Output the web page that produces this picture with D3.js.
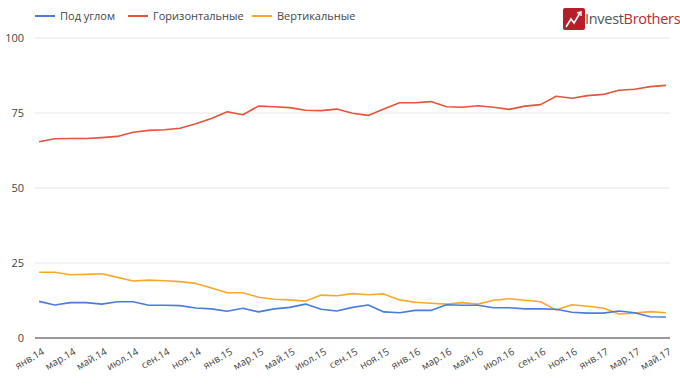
<!DOCTYPE html>
<html>
<head>
<meta charset="utf-8">
<script src="https://cdn.jsdelivr.net/npm/d3@7"></script>
<style>
  body { margin: 0; background: #fff; }
  svg { display: block; font-family: "Open Sans", "Noto Sans", sans-serif; }
</style>
</head>
<body>
<svg id="chart" width="680" height="385"></svg>
<script>
// months jan 2014 .. may 2017
var months = ["янв.14","фев.14","мар.14","апр.14","май.14","июн.14","июл.14","авг.14","сен.14","окт.14","ноя.14","дек.14",
  "янв.15","фев.15","мар.15","апр.15","май.15","июн.15","июл.15","авг.15","сен.15","окт.15","ноя.15","дек.15",
  "янв.16","фев.16","мар.16","апр.16","май.16","июн.16","июл.16","авг.16","сен.16","окт.16","ноя.16","дек.16",
  "янв.17","фев.17","мар.17","апр.17","май.17"];

var seriesNames = ["Под углом", "Горизонтальные", "Вертикальные"];

var angled = [12.2, 11.0, 11.8, 11.8, 11.3, 12.1, 12.1, 10.9, 10.9, 10.8, 10.0, 9.7, 8.9, 9.9, 8.7, 9.7, 10.2, 11.3, 9.6, 9.0,
  10.2, 11.0, 8.7, 8.4, 9.2, 9.2, 11.1, 10.9, 10.9, 10.1, 10.1, 9.7, 9.7, 9.6, 8.6, 8.3, 8.3, 9.0, 8.4, 7.1, 7.0];

var horizontal = [65.4, 66.4, 66.5, 66.5, 66.8, 67.2, 68.6, 69.2, 69.4, 69.9, 71.4, 73.2, 75.4, 74.4, 77.3, 77.1, 76.8, 75.9, 75.8, 76.3,
  74.9, 74.2, 76.3, 78.4, 78.4, 78.8, 77.1, 76.9, 77.4, 76.9, 76.2, 77.3, 77.8, 80.6, 79.9, 80.8, 81.2, 82.6, 82.9, 83.8, 84.2];

var vertical = [21.9, 21.9, 21.1, 21.2, 21.4, 20.2, 19.0, 19.3, 19.1, 18.8, 18.2, 16.7, 15.1, 15.1, 13.6, 12.9, 12.7, 12.3, 14.3, 14.1,
  14.8, 14.4, 14.7, 12.7, 11.9, 11.6, 11.3, 11.8, 11.3, 12.6, 13.1, 12.6, 12.1, 9.3, 11.1, 10.6, 10.0, 8.0, 8.3, 8.8, 8.4];

var yTicks = [0, 25, 50, 75, 100];

var colors = ["#4a7ddb", "#e5533b", "#fba82a"];
var allSeries = [angled, horizontal, vertical];

var margin = {top: 38, right: 10, bottom: 47, left: 35},
    width = 680 - margin.left - margin.right,
    height = 385 - margin.top - margin.bottom;

var svg = d3.select("#chart");
var g = svg.append("g")
    .attr("transform", "translate(" + margin.left + "," + margin.top + ")");

var x = d3.scalePoint()
    .domain(months)
    .range([0, width])
    .padding(0.26);

var y = d3.scaleLinear()
    .domain([0, 100])
    .range([height, 0]);

// gridlines
g.selectAll(".grid")
    .data(yTicks.filter(function(d) { return d > 0; }))
    .enter().append("line")
    .attr("x1", 0).attr("x2", width)
    .attr("y1", function(d) { return y(d); })
    .attr("y2", function(d) { return y(d); })
    .attr("stroke", "#e6e6e6")
    .attr("stroke-width", 1);

// y labels
g.selectAll(".ylab")
    .data(yTicks)
    .enter().append("text")
    .attr("x", -11)
    .attr("y", function(d) { return y(d); })
    .attr("dy", "0.35em")
    .attr("text-anchor", "end")
    .attr("font-size", "11px")
    .attr("fill", "#444")
    .text(function(d) { return d; });

// baseline
g.append("line")
    .attr("x1", 0).attr("x2", width)
    .attr("y1", y(0)).attr("y2", y(0))
    .attr("stroke", "#333")
    .attr("stroke-width", 1);

// x labels every 2 months
var xAxis = d3.axisBottom(x)
    .tickValues(months.filter(function(d, i) { return i % 2 === 0; }))
    .tickSize(0);

g.append("g")
    .attr("transform", "translate(0," + height + ")")
    .call(xAxis)
    .call(function(a) { a.select(".domain").remove(); })
    .selectAll("text")
    .attr("font-family", "Open Sans")
    .attr("font-size", "10px")
    .attr("fill", "#444")
    .attr("text-anchor", "end")
    .attr("dy", 0)
    .attr("transform", "translate(4,13) rotate(-30)");

var line = d3.line()
    .x(function(d, i) { return x(months[i]); })
    .y(function(d) { return y(d); });

// draw order: orange, red, blue on top
[2, 1, 0].forEach(function(k) {
  g.append("path")
      .datum(allSeries[k])
      .attr("fill", "none")
      .attr("stroke", colors[k])
      .attr("stroke-width", 1.6)
      .attr("stroke-linejoin", "round")
      .attr("d", line);
});

// legend
var legendX = [35, 128, 252];
var legend = svg.selectAll(".legend")
    .data(seriesNames)
    .enter().append("g")
    .attr("transform", function(d, i) { return "translate(" + legendX[i] + ",16)"; });

legend.append("line")
    .attr("x1", 0).attr("x2", 20)
    .attr("stroke", function(d, i) { return colors[i]; })
    .attr("stroke-width", 2);

legend.append("text")
    .attr("x", 25)
    .attr("dy", "0.35em")
    .attr("font-size", "11px")
    .attr("fill", "#444")
    .text(function(d) { return d; });

// logo
var logo = svg.append("g").attr("transform", "translate(563,8)");
logo.append("rect")
    .attr("width", 22).attr("height", 22)
    .attr("rx", 2)
    .attr("fill", "#b3202a");
logo.append("polyline")
    .attr("points", "3,19 8,11 11,15 17,5")
    .attr("fill", "none")
    .attr("stroke", "#fff")
    .attr("stroke-width", 1.6);
logo.append("polyline")
    .attr("points", "14,5 18,4 18,8")
    .attr("fill", "none")
    .attr("stroke", "#fff")
    .attr("stroke-width", 1.4);
var logoText = logo.append("text")
    .attr("x", 22)
    .attr("y", 16)
    .attr("font-size", "14.5px")
    .attr("letter-spacing", "-0.3px");
logoText.append("tspan").attr("fill", "#555").text("Invest");
logoText.append("tspan").attr("fill", "#c0272d").text("Brothers");
</script>
</body>
</html>
